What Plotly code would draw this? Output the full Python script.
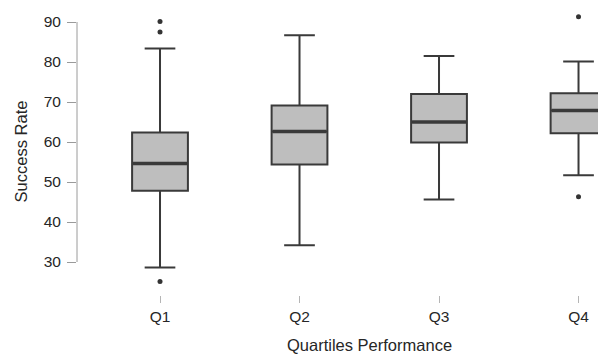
import plotly.graph_objects as go

categories = ["Q1", "Q2", "Q3", "Q4"]
q1_vals = [47.8, 54.4, 59.9, 62.2]
median_vals = [54.6, 62.6, 65.0, 67.9]
q3_vals = [62.4, 69.1, 72.0, 72.2]
lower_whisker = [28.6, 34.2, 45.6, 51.7]
upper_whisker = [83.4, 86.7, 81.5, 80.1]

outlier_cats = ["Q1", "Q1", "Q1", "Q4", "Q4"]
outlier_vals = [90.1, 87.5, 25.1, 91.3, 46.3]

y_ticks = [30, 40, 50, 60, 70, 80, 90]

line_col = "#3a3a3a"
text_col = "#262626"
font_family = "Liberation Sans, Arial, sans-serif"

fig = go.Figure()
fig.add_trace(go.Box(
    x=categories, q1=q1_vals, median=median_vals, q3=q3_vals,
    lowerfence=lower_whisker, upperfence=upper_whisker,
    boxpoints=False, width=0.4, whiskerwidth=0.55,
    fillcolor="#bebebe", line=dict(color=line_col, width=2),
    showlegend=False, hoverinfo="skip"))
fig.add_trace(go.Scatter(
    x=categories, y=median_vals, mode="markers",
    marker=dict(symbol="line-ew", size=38.5, line=dict(color=line_col, width=3.5)),
    showlegend=False, hoverinfo="skip"))
fig.add_trace(go.Scatter(
    x=outlier_cats, y=outlier_vals, mode="markers",
    marker=dict(size=5, color="#333333"),
    showlegend=False, hoverinfo="skip"))

fig.add_shape(type="line", xref="paper", yref="y", x0=0, x1=0,
              y0=min(y_ticks), y1=max(y_ticks),
              line=dict(color="#9a9a9a", width=1))

fig.add_annotation(x=1.5, xref="x", y=0, yref="paper", yshift=-50,
                   text="Quartiles Performance", showarrow=False,
                   yanchor="middle", xanchor="center",
                   font=dict(size=16.5, color=text_col, family=font_family))

# page body has an 8px margin, so the figure is 8px smaller on each side
fig.update_layout(
    width=598, height=348,
    margin=dict(l=69, r=0, t=0, b=61),
    plot_bgcolor="white", paper_bgcolor="white",
    font=dict(family=font_family, color=text_col),
    xaxis=dict(range=[-0.595, 3.197], showgrid=False, zeroline=False, showline=False,
               ticks="outside", ticklen=7, tickcolor="#b5b5b5", tickwidth=1,
               tickfont=dict(size=15.5, color=text_col), type="category"),
    yaxis=dict(range=[21.75, 93.5], tickvals=y_ticks, showgrid=False, zeroline=False,
               showline=False, ticks="outside", ticklen=9, tickcolor="#9a9a9a", tickwidth=1,
               ticklabelstandoff=3,
               tickfont=dict(size=15.5, color=text_col),
               title=dict(text="Success Rate", font=dict(size=16.5, color=text_col), standoff=11)),
)

fig.write_html("out.html")
